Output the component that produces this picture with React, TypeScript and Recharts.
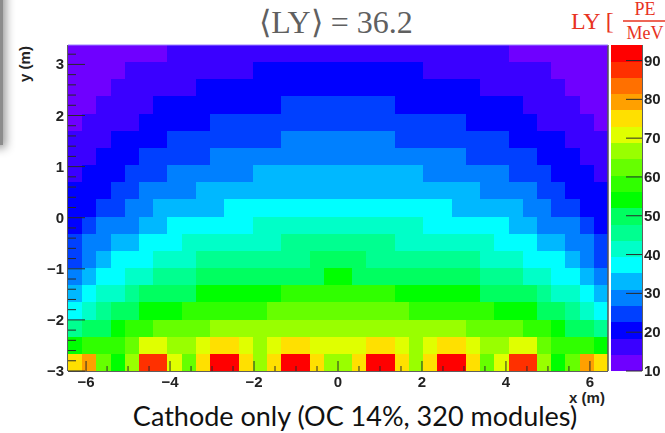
import React from "react";
import { ScatterChart, Scatter, XAxis, YAxis } from "recharts";

const W = 665, H = 433;
const PLOT_L = 68, PLOT_R = 608, PLOT_T = 45, PLOT_B = 371;
const X_MIN = -6.43, X_MAX = 6.43, Y_MIN = -3, Y_MAX = 3.38;
const BAR_MIN = 10, BAR_MAX = 94, BAR_STEP = 4.2;

const palette = [
  "#6f00ff", "#3a00ff", "#0000ff", "#0040ff", "#0080ff", "#00b8ff", "#00ffff",
  "#00ffc8", "#00ff90", "#00ff60", "#00ff00", "#30ff00", "#66ff00", "#99ff00",
  "#e0ff00", "#ffe000", "#ffa000", "#ff7000", "#ff3000", "#ff0000",
];

// LY per bin, top row (y high) to bottom row, left to right
const row00 = [12,12,12,12,12,12,12,16,16,16,16,16,16,16,16,16,16,16,16,16,16,16,16,16,16,16,16,16,16,16,16,12,12,12,12,12,12,12];
const row01 = [12,12,12,12,16,16,16,16,16,16,16,16,16,21,21,21,21,21,21,21,21,21,21,21,21,16,16,16,16,16,16,16,16,16,12,12,12,12];
const row02 = [12,12,12,16,16,16,16,16,16,21,21,21,21,21,21,21,21,21,21,21,21,21,21,21,21,21,21,21,21,16,16,16,16,16,16,12,12,12];
const row03 = [12,12,16,16,16,16,21,21,21,21,21,21,21,21,21,25,25,25,25,25,25,25,25,21,21,21,21,21,21,21,21,21,16,16,16,16,12,12];
const row04 = [12,16,16,16,16,21,21,21,21,21,25,25,25,25,25,25,25,25,25,25,25,25,25,25,25,25,25,25,21,21,21,21,21,16,16,16,16,12];
const row05 = [16,16,16,21,21,21,21,25,25,25,25,25,25,25,25,29,29,29,29,29,29,29,29,25,25,25,25,25,25,25,25,21,21,21,21,16,16,16];
const row06 = [16,16,21,21,21,25,25,25,25,25,29,29,29,29,29,29,29,29,29,29,29,29,29,29,29,29,29,29,25,25,25,25,25,21,21,21,16,16];
const row07 = [16,21,21,21,25,25,25,29,29,29,29,29,29,33,33,33,33,33,33,33,33,33,33,33,33,29,29,29,29,29,29,25,25,25,21,21,21,16];
const row08 = [21,21,21,25,25,29,29,29,29,33,33,33,33,33,33,33,33,33,33,33,33,33,33,33,33,33,33,33,33,29,29,29,29,25,25,21,21,21];
const row09 = [21,21,25,25,29,29,33,33,33,33,33,37,37,37,37,37,37,37,37,37,37,37,37,37,37,37,37,33,33,33,33,33,29,29,25,25,21,21];
const row10 = [21,25,29,29,29,33,33,37,37,37,37,37,37,42,42,42,42,42,42,42,42,42,42,42,42,37,37,37,37,37,37,33,33,29,29,29,25,21];
const row11 = [25,29,29,33,33,37,37,37,42,42,42,42,42,42,42,46,46,46,46,46,46,46,46,42,42,42,42,42,42,42,37,37,37,33,33,29,29,25];
const row12 = [25,29,33,37,37,37,42,42,42,46,46,46,46,46,46,46,46,50,50,50,50,46,46,46,46,46,46,46,46,42,42,42,37,37,37,33,29,25];
const row13 = [29,33,37,37,42,42,46,46,46,50,50,50,50,50,50,50,50,50,54,54,50,50,50,50,50,50,50,50,50,46,46,46,42,42,37,37,33,29];
const row14 = [33,37,42,42,46,50,50,50,50,54,54,54,54,54,54,58,58,58,58,58,58,58,58,54,54,54,54,54,54,50,50,50,50,46,42,42,37,33];
const row15 = [37,42,46,50,50,54,54,54,58,58,58,58,58,58,63,63,63,63,63,63,63,63,63,63,58,58,58,58,58,58,54,54,54,50,50,46,42,37];
const row16 = [46,50,50,54,58,58,63,63,63,63,67,67,67,67,67,67,67,67,67,67,67,67,67,67,67,67,67,67,63,63,63,63,58,58,54,50,50,46];
const row17 = [54,58,58,58,63,71,71,67,67,71,75,75,71,67,71,75,75,71,71,71,71,75,75,71,67,71,75,75,71,67,67,71,71,63,58,58,58,54];
const row18 = [75,79,63,54,67,88,88,71,63,75,92,92,75,67,75,92,92,75,67,67,75,92,92,75,67,75,92,92,75,63,71,88,88,67,54,63,79,75];
const rows = [row00,row01,row02,row03,row04,row05,row06,row07,row08,row09,row10,row11,row12,row13,row14,row15,row16,row17,row18];

const xTicks = [-6,-5.5,-5,-4.5,-4,-3.5,-3,-2.5,-2,-1.5,-1,-0.5,0,0.5,1,1.5,2,2.5,3,3.5,4,4.5,5,5.5,6];
const yTicks = [-3,-2.8,-2.6,-2.4,-2.2,-2,-1.8,-1.6,-1.4,-1.2,-1,-0.8,-0.6,-0.4,-0.2,0,0.2,0.4,0.6,0.8,1,1.2,1.4,1.6,1.8,2,2.2,2.4,2.6,2.8,3,3.2];
const barTicks = [10,20,30,40,50,60,70,80,90];

const colourOf = (ly: number) =>
  palette[Math.min(palette.length - 1, Math.floor((ly - BAR_MIN) / BAR_STEP))];

const nCols = row00.length, nRows = rows.length;
const binX = (X_MAX - X_MIN) / nCols, binY = (Y_MAX - Y_MIN) / nRows;
const cells = rows.flatMap((r, i) =>
  r.map((ly, j) => ({ x: X_MIN + (j + 0.5) * binX, y: Y_MAX - (i + 0.5) * binY, ly }))
);
const barCells = palette.map((_, k) => ({ x: 0.5, y: BAR_MIN + (k + 0.5) * BAR_STEP, ly: BAR_MIN + (k + 0.5) * BAR_STEP }));

const CELL_W = (PLOT_R - PLOT_L) / nCols, CELL_H = (PLOT_B - PLOT_T) / nRows;
const BAR_W = 31, BAR_H = (PLOT_B - PLOT_T) / palette.length;

const Cell = (w: number, h: number) => (p: any) => (
  <rect x={p.cx - w / 2} y={p.cy - h / 2} width={w + 0.2} height={h + 0.2} fill={colourOf(p.payload.ly)} shapeRendering="crispEdges" />
);

const AXIS = "#2a2a2a";
const labelFont = { fontFamily: "'Liberation Sans', Arial, sans-serif", fontWeight: 700, fontSize: 15, fill: "#222" };
const minus = (v: number) => (v < 0 ? `\u2212${-v}` : `${v}`);

const XTick = (p: any) => {
  const v = p.payload.value;
  const major = Math.abs(v % 2) < 1e-6;
  return (
    <g>
      <line x1={p.x} x2={p.x} y1={p.y} y2={p.y - (major ? 10 : 5)} stroke={AXIS} strokeWidth={1} />
      {major && <text x={p.x} y={p.y + 16} textAnchor="middle" {...labelFont}>{minus(v)}</text>}
    </g>
  );
};
const YTick = (p: any) => {
  const v = Math.round(p.payload.value * 10) / 10;
  const major = Number.isInteger(v);
  return (
    <g>
      <line x1={p.x} x2={p.x + (major ? 17 : 8)} y1={p.y} y2={p.y} stroke={AXIS} strokeWidth={1} />
      {major && <text x={p.x - 4} y={p.y + 5} textAnchor="end" {...labelFont}>{minus(v)}</text>}
    </g>
  );
};
const BarTick = (p: any) => (
  <g>
    <line x1={p.x} x2={p.x - 16} y1={p.y} y2={p.y} stroke={AXIS} strokeWidth={1} />
    <text x={p.x + 2} y={p.y + 5} textAnchor="start" {...labelFont}>{p.payload.value}</text>
  </g>
);

export default function App() {
  return (
    <div style={{ position: "fixed", left: 0, top: 0, width: W, height: H, background: "#fff", overflow: "hidden" }}>
      <div style={{ position: "absolute", left: -6, top: -10, width: 9, height: 155, background: "#8c8c8c", boxShadow: "0 0 10px 3px #999" }} />
      <div style={{ position: "absolute", left: 0, top: 0, filter: "blur(0.4px)" }}>
        <ScatterChart width={W} height={H} margin={{ top: PLOT_T, right: W - PLOT_R, bottom: 0, left: 0 }}>
          <XAxis
            type="number" dataKey="x" domain={[X_MIN, X_MAX]} ticks={xTicks} interval={0} height={H - PLOT_B}
            allowDataOverflow tickSize={0} tickMargin={0} tickLine={false} tick={<XTick />}
            axisLine={{ stroke: AXIS, strokeWidth: 1.5 }}
          />
          <YAxis
            type="number" dataKey="y" domain={[Y_MIN, Y_MAX]} ticks={yTicks} interval={0} width={PLOT_L}
            allowDataOverflow tickSize={0} tickMargin={0} tickLine={false} tick={<YTick />}
            axisLine={{ stroke: AXIS, strokeWidth: 1.5 }}
          />
          <Scatter data={cells} isAnimationActive={false} shape={Cell(CELL_W, CELL_H)} />
        </ScatterChart>
      </div>
      <div style={{ position: "absolute", left: PLOT_R + 3, top: 0, filter: "blur(0.4px)" }}>
        <ScatterChart width={W - PLOT_R - 3} height={H} margin={{ top: PLOT_T, right: 0, bottom: H - PLOT_B, left: 0 }}>
          <XAxis type="number" dataKey="x" domain={[0, 1]} hide />
          <YAxis
            type="number" dataKey="y" orientation="right" domain={[BAR_MIN, BAR_MAX]} ticks={barTicks} interval={0}
            width={W - PLOT_R - 3 - BAR_W} tickSize={0} tickMargin={0} tickLine={false} tick={<BarTick />}
            axisLine={{ stroke: AXIS, strokeWidth: 1.5 }}
          />
          <Scatter data={barCells} isAnimationActive={false} shape={Cell(BAR_W, BAR_H)} />
        </ScatterChart>
      </div>
      <svg width={W} height={H} style={{ position: "absolute", left: 0, top: 0, pointerEvents: "none" }}>
        <line x1={PLOT_R} x2={PLOT_R} y1={PLOT_T} y2={PLOT_B} stroke="#555" strokeWidth={1.5} />
        <line x1={PLOT_L} x2={PLOT_R} y1={PLOT_T} y2={PLOT_T} stroke="#9a80ff" strokeWidth={1} />
        <text x={336} y={33} textAnchor="middle" fontFamily="'Liberation Serif', serif" fontSize={32} fill="#606060">{"\u27E8LY\u27E9 = 36.2"}</text>
        <text x={571} y={29} fontFamily="'Liberation Serif', serif" fontSize={24} fill="#e8331f">LY [</text>
        <text x={645} y={15} textAnchor="middle" fontFamily="'Liberation Serif', serif" fontSize={18} fill="#e8331f">PE</text>
        <line x1={623} x2={665} y1={21} y2={21} stroke="#e8331f" strokeWidth={1.5} />
        <text x={645} y={39} textAnchor="middle" fontFamily="'Liberation Serif', serif" fontSize={18} fill="#e8331f">MeV</text>
        <text x={30} y={64} textAnchor="middle" transform="rotate(-90 30 64)" {...labelFont}>y (m)</text>
        <text x={587} y={403} textAnchor="middle" {...labelFont}>x (m)</text>
        <text x={355} y={426} textAnchor="middle" fontFamily="Lato, sans-serif" fontSize={27} fill="#111">Cathode only (OC 14%, 320 modules)</text>
      </svg>
    </div>
  );
}
